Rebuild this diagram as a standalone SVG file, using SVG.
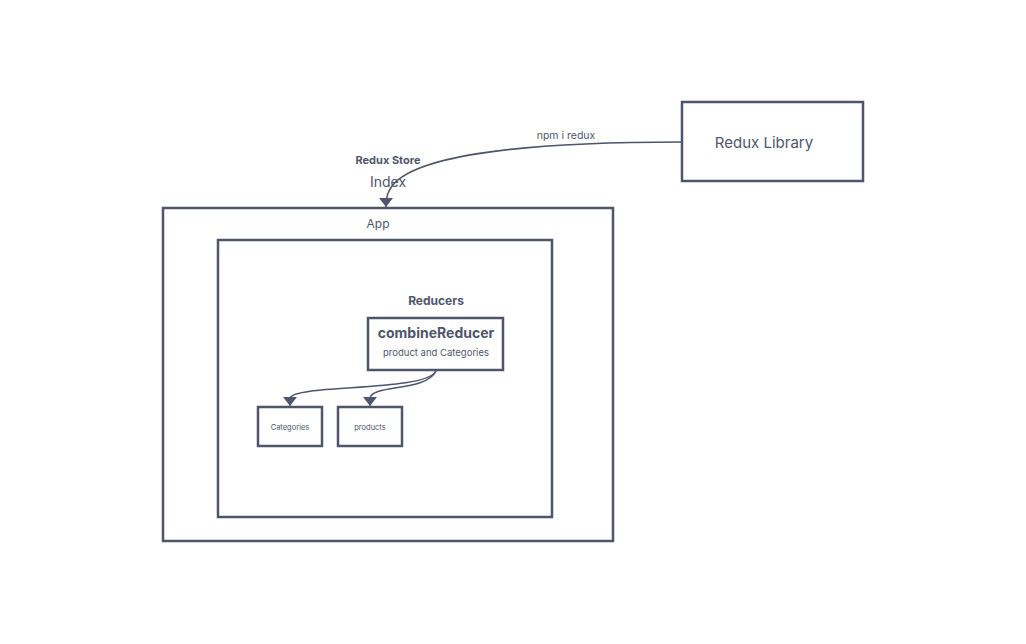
<svg xmlns="http://www.w3.org/2000/svg" width="1026" height="644" viewBox="0 0 1026 644">
<style>
.box{fill:#fff;stroke:#4f566b;stroke-width:2.5}
.t{font-family:Inter,"Liberation Sans",sans-serif;fill:#4f566b}
.c{fill:none;stroke:#4f566b;stroke-width:1.5}
</style>
<defs>
<marker id="ah" markerWidth="9" markerHeight="14" refX="9" refY="7" orient="auto" markerUnits="userSpaceOnUse">
<path d="M0,0 L9,7 L0,14 Z" fill="#4f566b"/>
</marker>
</defs>
<rect width="1026" height="644" fill="#fff"/>
<g id="app">
<rect class="box" x="163" y="208" width="450" height="333"/>
<text class="t" x="378" y="228" font-size="12" text-anchor="middle">App</text>
</g>
<g id="store-labels">
<text class="t" x="388" y="164" font-size="11" font-weight="bold" text-anchor="middle">Redux Store</text>
<text class="t" x="388" y="187" font-size="14" text-anchor="middle">Index</text>
</g>
<g id="inner">
<rect class="box" x="218" y="240" width="334" height="277"/>
<text class="t" x="436" y="305" font-size="12" font-weight="bold" text-anchor="middle">Reducers</text>
</g>
<g id="combineReducer">
<rect class="box" x="368" y="318" width="135" height="52"/>
<text class="t" x="436" y="338" font-size="14" font-weight="bold" text-anchor="middle">combineReducer</text>
<text class="t" x="436" y="356" font-size="9.5" text-anchor="middle">product and Categories</text>
</g>
<g id="categories">
<rect class="box" x="258" y="407" width="64" height="39"/>
<text class="t" x="290" y="430" font-size="7.5" text-anchor="middle">Categories</text>
</g>
<g id="products">
<rect class="box" x="338" y="407" width="64" height="39"/>
<text class="t" x="370" y="430" font-size="7.5" text-anchor="middle">products</text>
</g>
<g id="redux-library">
<rect class="box" x="682" y="102" width="181" height="79"/>
<text class="t" x="764" y="148" font-size="15" text-anchor="middle">Redux Library</text>
</g>
<g id="connectors">
<path class="c" d="M682,142 C560,142 420,150 392,186 C388,192 386,196 386,207" marker-end="url(#ah)"/>
<text class="t" x="566" y="139" font-size="10.5" text-anchor="middle">npm i redux</text>
<path class="c" d="M436,371 C426,392 296,384 290,398 L290,406" marker-end="url(#ah)"/>
<path class="c" d="M436,371 C426,392 373,384 370,398 L370,406" marker-end="url(#ah)"/>
</g>
</svg>
